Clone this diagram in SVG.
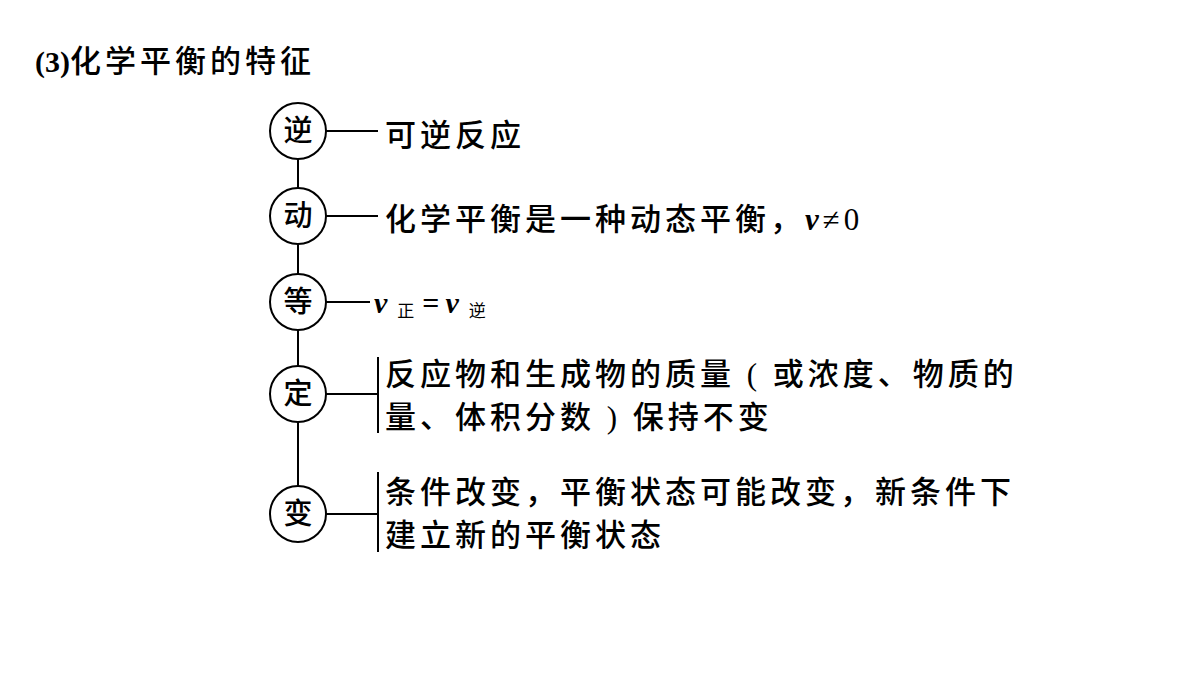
<svg xmlns="http://www.w3.org/2000/svg" width="1200" height="675" viewBox="0 0 1200 675">
<style>
.t{font-family:"Liberation Serif","Noto Sans CJK SC",serif;font-size:31px;fill:#000;letter-spacing:4px;font-weight:500}
.c{font-family:"Noto Sans CJK SC",sans-serif;font-size:29px;fill:#000;text-anchor:middle;font-weight:500}
.n circle{fill:#fff;stroke:#000;stroke-width:2}
.l{stroke:#000;stroke-width:2;fill:none}
</style>
<rect width="1200" height="675" fill="#fff"/>
<text x="35" y="72" style="font-family:'Liberation Serif','Noto Sans CJK SC',serif;font-size:31px;font-weight:500"><tspan font-weight="bold" font-size="30">(3)</tspan><tspan letter-spacing="4">化学平衡的特征</tspan></text>
<g id="connectors">
<path class="l" d="M298 159V188M298 244V274M298 330V366M298 422V486"/>
<path class="l" d="M326 131H378M326 216H378M326 302H370M326 394H378M378 357V433M326 514H378M378 472V552"/>
</g>
<g id="n1" class="n"><circle cx="298" cy="131" r="28"/><text class="c" x="298" y="141">逆</text></g>
<g id="n2" class="n"><circle cx="298" cy="216" r="28"/><text class="c" x="298" y="226">动</text></g>
<g id="n3" class="n"><circle cx="298" cy="302" r="28"/><text class="c" x="298" y="312">等</text></g>
<g id="n4" class="n"><circle cx="298" cy="394" r="28"/><text class="c" x="298" y="404">定</text></g>
<g id="n5" class="n"><circle cx="298" cy="514" r="28"/><text class="c" x="298" y="524">变</text></g>
<text class="t" x="385" y="146">可逆反应</text>
<text class="t" x="385" y="230">化学平衡是一种动态平衡，<tspan font-style="italic" font-weight="bold">v</tspan>≠0</text>
<text x="374" y="313" style="font-family:'Liberation Serif','Noto Sans CJK SC',serif;font-size:30px"><tspan font-style="italic" font-weight="bold">v</tspan><tspan font-size="17" dx="10" dy="4">正</tspan><tspan dx="8" dy="-4" font-weight="bold">=</tspan><tspan dx="6" font-style="italic" font-weight="bold">v</tspan><tspan font-size="17" dx="10" dy="4">逆</tspan></text>
<text class="t" x="385" y="385">反应物和生成物的质量 ( 或浓度、物质的</text>
<text class="t" x="385" y="428">量、体积分数 ) 保持不变</text>
<text class="t" x="385" y="503">条件改变，平衡状态可能改变，新条件下</text>
<text class="t" x="385" y="546">建立新的平衡状态</text>
</svg>
